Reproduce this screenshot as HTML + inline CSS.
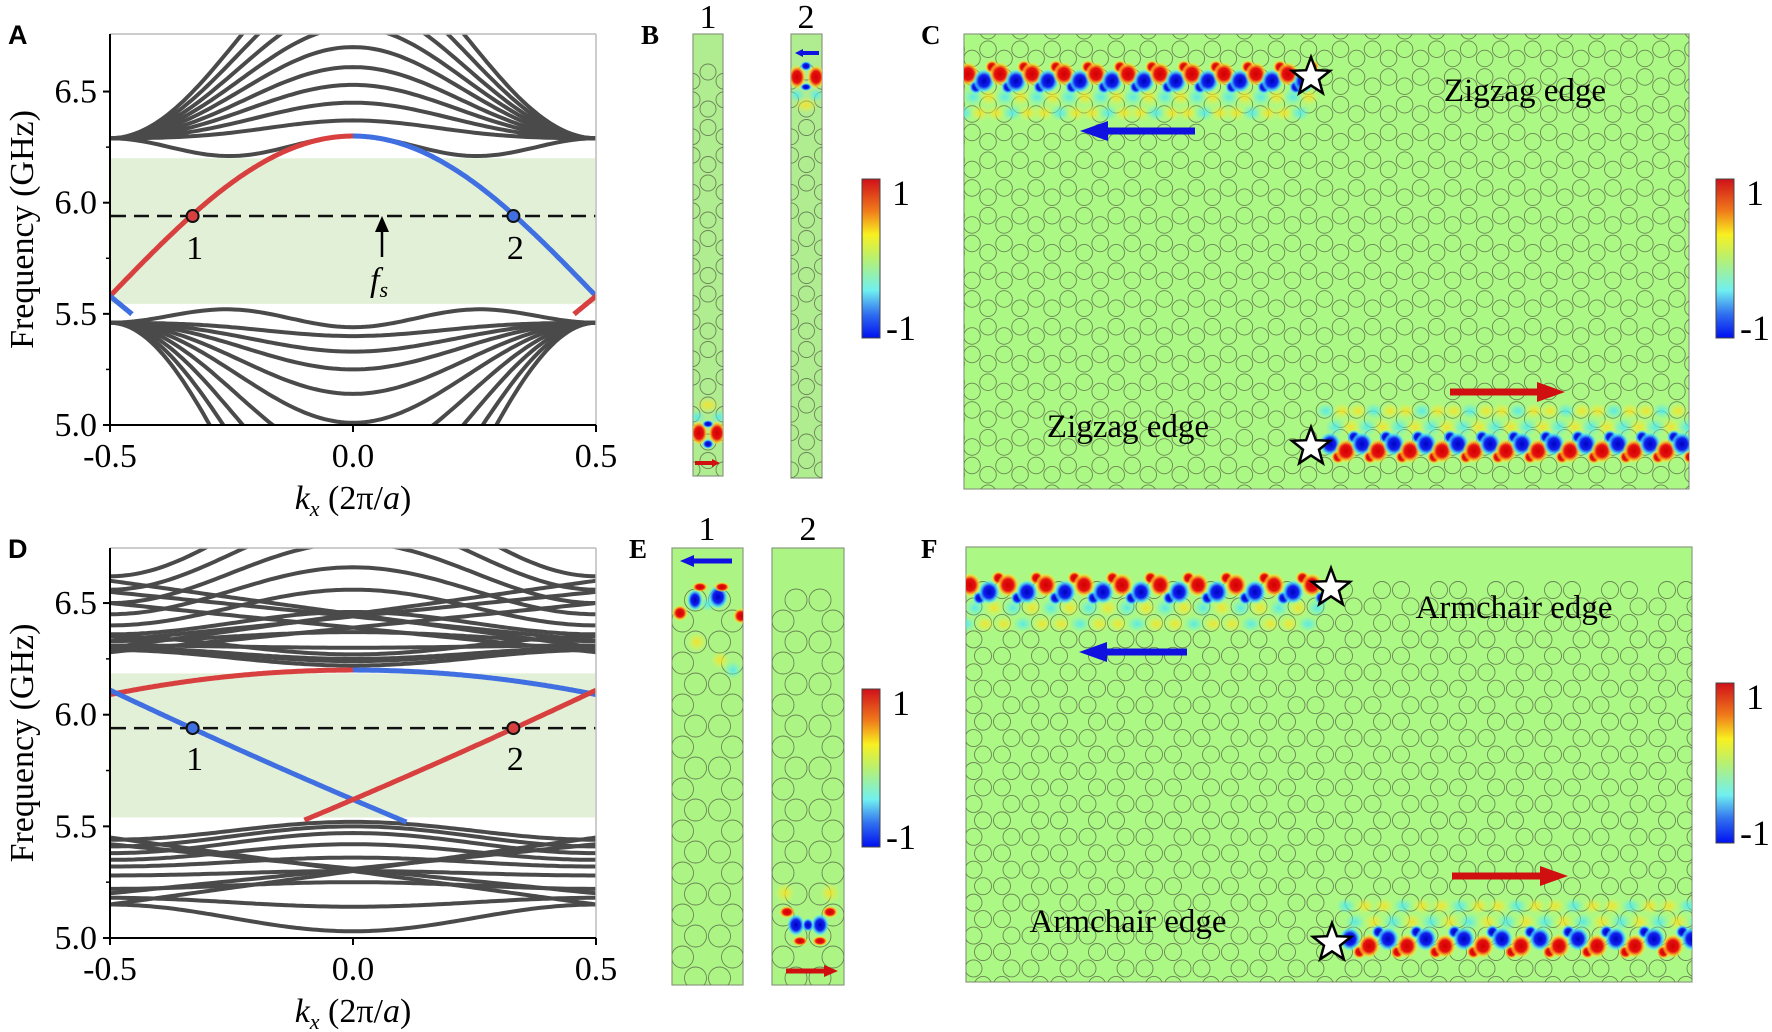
<!DOCTYPE html>
<html><head><meta charset="utf-8">
<style>
html,body{margin:0;padding:0;background:#fff;}
svg{display:block;}
svg text{font-family:"Liberation Serif","DejaVu Serif",serif;}
svg text.lab{font-family:"Liberation Sans",sans-serif;font-weight:bold;font-size:27px;}
</style></head>
<body>
<svg id="s" width="1772" height="1032" xmlns="http://www.w3.org/2000/svg" font-family="Liberation Serif, serif">
<defs>
<linearGradient id="cb" x1="0" y1="0" x2="0" y2="1">
<stop offset="0" stop-color="#d0101a"/><stop offset="0.2" stop-color="#f07a1a"/>
<stop offset="0.35" stop-color="#f8f020"/><stop offset="0.5" stop-color="#b8f070"/>
<stop offset="0.7" stop-color="#70f0f0"/><stop offset="0.85" stop-color="#3070f0"/>
<stop offset="1" stop-color="#0010f0"/></linearGradient>
<radialGradient id="gr"><stop offset="0" stop-color="#d00000"/><stop offset="0.5" stop-color="#e81010"/><stop offset="0.78" stop-color="#ffc020" stop-opacity="0.8"/><stop offset="1" stop-color="#ffff40" stop-opacity="0"/></radialGradient>
<radialGradient id="gb"><stop offset="0" stop-color="#0000c0"/><stop offset="0.5" stop-color="#1020f0"/><stop offset="0.78" stop-color="#40d0ff" stop-opacity="0.8"/><stop offset="1" stop-color="#60ffff" stop-opacity="0"/></radialGradient>
<radialGradient id="gy"><stop offset="0" stop-color="#f8e020" stop-opacity="0.9"/><stop offset="1" stop-color="#f8f040" stop-opacity="0"/></radialGradient>
<radialGradient id="gc"><stop offset="0" stop-color="#50e8f0" stop-opacity="0.9"/><stop offset="1" stop-color="#60f0f0" stop-opacity="0"/></radialGradient>
<clipPath id="cA"><rect x="110" y="34" width="486" height="391"/></clipPath>
<clipPath id="cD"><rect x="110" y="548" width="486" height="390"/></clipPath>
<clipPath id="cB1"><rect x="693" y="34" width="30" height="442"/></clipPath>
<clipPath id="cB2"><rect x="791" y="34" width="31" height="444"/></clipPath>
<clipPath id="cC"><rect x="964" y="34" width="725" height="455"/></clipPath>
<clipPath id="cE1"><rect x="672" y="548" width="71" height="437"/></clipPath>
<clipPath id="cE2"><rect x="772" y="548" width="72" height="437"/></clipPath>
<clipPath id="cF"><rect x="966" y="547" width="726" height="435"/></clipPath>
</defs>
<g id="root"></g>
</svg>
<script>
const NS="http://www.w3.org/2000/svg";
const root=document.getElementById("root");
function el(tag,attrs,parent,txt){const e=document.createElementNS(NS,tag);for(const k in attrs)e.setAttribute(k,attrs[k]);if(tag==="text"&&!e.getAttribute("font-family"))e.setAttribute("font-family","Liberation Serif, serif");if(txt!==undefined)e.textContent=txt;(parent||root).appendChild(e);return e;}
function pathFrom(fn,k0,k1,X,Y){let d="";const n=120;for(let i=0;i<=n;i++){const k=k0+(k1-k0)*i/n;d+=(i?"L":"M")+X(k).toFixed(1)+","+Y(fn(k)).toFixed(1);}return d;}
const X=k=>353+k*486;
const YA=f=>425-(f-5)*222.3;
const YD=f=>938-(f-5)*223.3;
const c=k=>(1+Math.cos(2*Math.PI*k))/2;
const s2=k=>Math.pow(Math.sin(2*Math.PI*k),2);

function axes(top,bot,Y){
  el("line",{x1:110,y1:top,x2:596,y2:top,stroke:"#bbb","stroke-width":1.5});
  el("line",{x1:596,y1:top,x2:596,y2:bot,stroke:"#bbb","stroke-width":1.5});
  el("line",{x1:110,y1:top,x2:110,y2:bot,stroke:"#000","stroke-width":2});
  el("line",{x1:110,y1:bot,x2:596,y2:bot,stroke:"#000","stroke-width":2});
  [5.0,5.5,6.0,6.5].forEach(f=>{const y=Y(f);el("line",{x1:103,y1:y,x2:110,y2:y,stroke:"#000","stroke-width":2});
    el("text",{x:97,y:y+11,"text-anchor":"end","font-size":34},null,f.toFixed(1));});
  [5.25,5.75,6.25].forEach(f=>{const y=Y(f);el("line",{x1:106,y1:y,x2:110,y2:y,stroke:"#000","stroke-width":1.5});});
  [-0.5,0,0.5].forEach(k=>{const x=X(k);el("line",{x1:x,y1:bot,x2:x,y2:bot+7,stroke:"#000","stroke-width":2});
    el("text",{x:x,y:bot+42,"text-anchor":"middle","font-size":34},null,(k<0?"-":"")+Math.abs(k).toFixed(1));});
  const t=el("text",{x:X(0),y:bot+84,"text-anchor":"middle","font-size":34});
  el("tspan",{"font-style":"italic"},t,"k");el("tspan",{"font-style":"italic","font-size":22,dy:7},t,"x");
  el("tspan",{dy:-7},t," (2π/");el("tspan",{"font-style":"italic"},t,"a");el("tspan",{},t,")");
  el("text",{x:0,y:0,"text-anchor":"middle","font-size":34,transform:`translate(33,${(top+bot)/2}) rotate(-90)`},null,"Frequency (GHz)");
}
const gray={fill:"none",stroke:"#4a4a4a","stroke-width":4};
// ---- Panel A ----
el("rect",{x:111,y:YA(6.2),width:484,height:YA(5.545)-YA(6.2),fill:"#e3f0d8"});
const gA=el("g",{"clip-path":"url(#cA)"});
[0.08,0.16,0.24,0.32,0.41,0.5,0.6,0.72,0.85].forEach(a=>el("path",Object.assign({d:pathFrom(k=>6.29+a*c(k)-0.015*s2(k),-0.5,0.5,X,YA)},gray),gA));
el("path",Object.assign({d:pathFrom(k=>6.29-0.085*s2(k)+0.01*c(k),-0.5,0.5,X,YA)},gray),gA);
el("path",Object.assign({d:pathFrom(k=>5.46+0.07*s2(k)-0.02*c(k),-0.5,0.5,X,YA)},gray),gA);
[0.06,0.13,0.21,0.32,0.45,0.62,0.82,1.05,1.3].forEach(b=>el("path",Object.assign({d:pathFrom(k=>5.46-b*c(k)+0.01*s2(k),-0.5,0.5,X,YA)},gray),gA));
const eA=k=>5.58+0.72*Math.cos(Math.PI*k);
el("path",{d:pathFrom(eA,-0.5,0,X,YA),fill:"none",stroke:"#d84040","stroke-width":5},gA);
el("path",{d:pathFrom(eA,0,0.5,X,YA),fill:"none",stroke:"#3f6fe0","stroke-width":5},gA);
el("path",{d:pathFrom(k=>5.58-1.8*(k+0.5),-0.5,-0.455,X,YA),fill:"none",stroke:"#3f6fe0","stroke-width":5},gA);
el("path",{d:pathFrom(k=>5.58-1.8*(0.5-k),0.455,0.5,X,YA),fill:"none",stroke:"#d84040","stroke-width":5},gA);
el("line",{x1:111,y1:YA(5.94),x2:596,y2:YA(5.94),stroke:"#111","stroke-width":2.5,"stroke-dasharray":"15,8"});
el("circle",{cx:X(-0.33),cy:YA(5.94),r:6,fill:"#d84040",stroke:"#111","stroke-width":2});
el("circle",{cx:X(0.33),cy:YA(5.94),r:6,fill:"#3f6fe0",stroke:"#111","stroke-width":2});
el("text",{x:X(-0.33)+2,y:259,"text-anchor":"middle","font-size":34},null,"1");
el("text",{x:X(0.33)+2,y:259,"text-anchor":"middle","font-size":34},null,"2");
el("line",{x1:382,y1:257,x2:382,y2:230,stroke:"#000","stroke-width":2.5});
el("path",{d:"M375,232 L382,216 L389,232 Z",fill:"#000"});
const fs=el("text",{x:370,y:291,"font-size":34,"font-style":"italic"},null);el("tspan",{},fs,"f");el("tspan",{"font-size":22,dy:6},fs,"s");
axes(34,425,YA);
el("text",{x:8,y:44,class:"lab","font-family":"Liberation Sans, sans-serif","font-weight":"bold","font-size":27},null,"A");

// ---- Panel D ----
el("rect",{x:111,y:YD(6.185),width:484,height:YD(5.54)-YD(6.185),fill:"#e3f0d8"});
const gD=el("g",{"clip-path":"url(#cD)"});
[[6.29,6.22],[6.3,6.25],[6.31,6.3],[6.33,6.37],[6.36,6.46],[6.4,6.56],[6.45,6.66],[6.5,6.77],[6.56,6.88],[6.62,7.0],[6.3,6.24],[6.35,6.27]].forEach(p=>el("path",Object.assign({d:pathFrom(k=>p[0]+(p[1]-p[0])*c(k),-0.5,0.5,X,YD)},gray),gD));
[[6.6,6.3],[6.55,6.33],[6.5,6.28]].forEach(p=>{el("path",Object.assign({d:pathFrom(k=>p[0]+(p[1]-p[0])*(k+0.5),-0.5,0.5,X,YD)},gray),gD);el("path",Object.assign({d:pathFrom(k=>p[1]+(p[0]-p[1])*(k+0.5),-0.5,0.5,X,YD)},gray),gD);});
[[5.44,5.52],[5.41,5.5],[5.38,5.47],[5.35,5.42],[5.32,5.36],[5.28,5.3],[5.22,5.25],[5.18,5.14],[5.15,5.03]].forEach(p=>el("path",Object.assign({d:pathFrom(k=>p[0]+(p[1]-p[0])*c(k),-0.5,0.5,X,YD)},gray),gD));
[[5.15,5.45],[5.2,5.42]].forEach(p=>{el("path",Object.assign({d:pathFrom(k=>p[0]+(p[1]-p[0])*(k+0.5),-0.5,0.5,X,YD)},gray),gD);el("path",Object.assign({d:pathFrom(k=>p[1]+(p[0]-p[1])*(k+0.5),-0.5,0.5,X,YD)},gray),gD);});
const up=k=>6.2-0.11*Math.pow(2*Math.abs(k),2);
el("path",{d:pathFrom(up,-0.5,0,X,YD),fill:"none",stroke:"#d84040","stroke-width":5},gD);
el("path",{d:pathFrom(up,0,0.5,X,YD),fill:"none",stroke:"#3f6fe0","stroke-width":5},gD);
const bl=k=>5.62-0.93*k+0.1*k*k;
el("path",{d:pathFrom(bl,-0.5,0.11,X,YD),fill:"none",stroke:"#3f6fe0","stroke-width":5},gD);
el("path",{d:pathFrom(k=>bl(-k),-0.1,0.5,X,YD),fill:"none",stroke:"#d84040","stroke-width":5},gD);
el("line",{x1:111,y1:YD(5.94),x2:596,y2:YD(5.94),stroke:"#111","stroke-width":2.5,"stroke-dasharray":"15,8"});
el("circle",{cx:X(-0.33),cy:YD(5.94),r:6,fill:"#3f6fe0",stroke:"#111","stroke-width":2});
el("circle",{cx:X(0.33),cy:YD(5.94),r:6,fill:"#d84040",stroke:"#111","stroke-width":2});
el("text",{x:X(-0.33)+2,y:770,"text-anchor":"middle","font-size":34},null,"1");
el("text",{x:X(0.33)+2,y:770,"text-anchor":"middle","font-size":34},null,"2");
axes(548,938,YD);
el("text",{x:8,y:558,class:"lab","font-family":"Liberation Sans, sans-serif","font-weight":"bold","font-size":27},null,"D");

// ---- helpers ----
const GREEN="#acf884";
function circ(g,x,y,r){el("circle",{cx:x,cy:y,r:r,fill:"none",stroke:"#5a6a4a","stroke-width":0.9,"stroke-opacity":0.8},g);}
function blob(g,x,y,rx,ry,col){el("ellipse",{cx:x,cy:y,rx:rx,ry:ry,fill:"url(#"+col+")"},g);}
function star(x,y,R){let d="";for(let i=0;i<10;i++){const r=i%2?R*0.42:R;const a=-Math.PI/2+i*Math.PI/5;d+=(i?"L":"M")+(x+r*Math.cos(a)).toFixed(1)+","+(y+r*Math.sin(a)).toFixed(1);}el("path",{d:d+"Z",fill:"#fff",stroke:"#000","stroke-width":2.5});}
function arrow(x1,x2,y,col,th,hw,hl){const dir=Math.sign(x2-x1);el("line",{x1:x1,y1:y,x2:x2-dir*hl,y2:y,stroke:col,"stroke-width":th});el("path",{d:`M${x2},${y} L${x2-dir*hl},${y-hw} L${x2-dir*hl},${y+hw} Z`,fill:col});}
function cbar(x,y1,y2){el("rect",{x:x,y:y1,width:18,height:y2-y1,fill:"url(#cb)",stroke:"#444","stroke-width":1});
  el("text",{x:x+30,y:y1+26,"font-size":36},null,"1");el("text",{x:x+24,y:y2+2,"font-size":36},null,"-1");}
function edgeRow(g,x0,x1,y,step,flip){let i=0;const s=flip?-1:1;for(let x=x0;x<=x1;x+=step/2,i++){
  const r=(i%2==0)^flip;
  blob(g,x+5,y+20*s,10,9,i%2?"gy":"gc");blob(g,x-4,y+36*s,10,8,i%3?"gy":"gc");
  blob(g,x,y+(i%2?4:-3),11,12,r?"gr":"gb");blob(g,x+step/4,y+(i%2?-10:10),7,7,r?"gb":"gr");}}

// ---- Panel B ----
function strip(x,y,w,h,clip,col){el("rect",{x:x,y:y,width:w,height:h,fill:col||"#b0ec90",stroke:"#8a9a80","stroke-width":1.2});return el("g",{"clip-path":"url(#"+clip+")"});}
[[693,30,"cB1",708],[791,31,"cB2",806.5]].forEach(([x,w,cl,cx],idx)=>{
  const g=strip(x,34,w,idx?444:442,cl);
  const a=18.5;for(let j=0;j<9;j++){const y0=72+j*3*a;circ(g,cx,y0,8);circ(g,cx-16,y0+a/2,8);circ(g,cx+16,y0+a/2,8);circ(g,cx-16,y0+1.5*a,8);circ(g,cx+16,y0+1.5*a,8);circ(g,cx,y0+2*a,8);}
  if(idx==0){blob(g,708,405,12,8,"gy");blob(g,697,417,8,7,"gc");blob(g,719,417,8,7,"gc");blob(g,699,433,9,12,"gr");blob(g,717,433,9,12,"gr");blob(g,708,444,6,5,"gb");blob(g,708,424,6,4,"gb");arrow(695,720,463,"#d01010",4,4,8);}
  else{blob(g,806,105,12,8,"gy");blob(g,797,95,8,7,"gc");blob(g,816,95,8,7,"gc");blob(g,797,77,9,12,"gr");blob(g,816,77,9,12,"gr");blob(g,806,66,6,5,"gb");blob(g,806,87,6,4,"gb");arrow(819,795,53,"#1010e0",4,4,8);}
});
el("text",{x:708,y:28,"text-anchor":"middle","font-size":34},null,"1");
el("text",{x:806,y:28,"text-anchor":"middle","font-size":34},null,"2");
cbar(862,179,338);
el("text",{x:641,y:44,"font-family":"Liberation Sans, sans-serif","font-weight":"bold","font-size":27},null,"B");

// ---- Panel C ----
el("rect",{x:964,y:34,width:725,height:455,fill:GREEN,stroke:"#8a9a80","stroke-width":1.2});
const gC=el("g",{"clip-path":"url(#cC)"});
(function(){const a=18.5,w=a*Math.sqrt(3);for(let j=-1;j<9;j++)for(let i=-1;i<25;i++){const x=972+i*w,y=77+j*3*a;
  [[0,0],[w/2,a/2],[w/2,1.5*a],[0,2*a]].forEach(p=>circ(gC,x+p[0],y+p[1],8.3));}})();
edgeRow(gC,968,1305,77,32,false);
edgeRow(gC,1330,1690,447,32,true);
star(1311,77,20);star(1311,447,20);
arrow(1195,1080,131,"#1010e0",7,10,28);
arrow(1450,1565,392,"#d01010",7,10,28);
el("text",{x:1525,y:101,"text-anchor":"middle","font-size":33},null,"Zigzag edge");
el("text",{x:1128,y:437,"text-anchor":"middle","font-size":33},null,"Zigzag edge");
cbar(1716,179,338);
el("text",{x:921,y:44,"font-family":"Liberation Sans, sans-serif","font-weight":"bold","font-size":27},null,"C");

// ---- Panel E ----
[[672,71,"cE1",707.5],[772,72,"cE2",808]].forEach(([x,w,cl,cx],idx)=>{
  const g=strip(x,548,w,437,cl,"#acf584");
  for(let j=0;j<10;j++){const y=600+j*42;circ(g,cx-12,y,11);circ(g,cx+12,y,11);if(j<9){circ(g,cx-25,y+21,11);circ(g,cx+25,y+21,11);}}
  if(idx==0){blob(g,697,642,10,10,"gy");blob(g,720,660,9,9,"gy");blob(g,733,670,9,9,"gc");blob(g,708,604,8,8,"gc");blob(g,695,600,8,11,"gb");blob(g,718,597,10,12,"gb");blob(g,700,587,8,5,"gr");blob(g,722,587,8,5,"gr");blob(g,680,613,8,8,"gr");blob(g,741,616,8,8,"gr");arrow(732,680,561,"#1010e0",5,6,14);}
  else{blob(g,785,893,10,10,"gy");blob(g,830,893,10,10,"gy");blob(g,796,925,9,11,"gb");blob(g,820,925,9,11,"gb");blob(g,808,925,6,7,"gb");blob(g,787,912,8,6,"gr");blob(g,830,912,8,6,"gr");blob(g,800,941,8,5,"gr");blob(g,820,941,8,5,"gr");arrow(786,838,971,"#d01010",5,6,14);}
});
el("text",{x:707,y:540,"text-anchor":"middle","font-size":34},null,"1");
el("text",{x:808,y:540,"text-anchor":"middle","font-size":34},null,"2");
cbar(862,689,847);
el("text",{x:629,y:558,"font-family":"Liberation Sans, sans-serif","font-weight":"bold","font-size":27},null,"E");

// ---- Panel F ----
el("rect",{x:966,y:547,width:726,height:435,fill:GREEN,stroke:"#8a9a80","stroke-width":1.2});
const gF=el("g",{"clip-path":"url(#cF)"});
(function(){const a=19,h=a*Math.sqrt(3)/2;for(let j=0;j<28;j++)for(let i=-1;i<14;i++){const y=590+j*h;const x=983+i*3*a+(j%2?1.5*a:0);
  circ(gF,x,y,8.5);circ(gF,x+a,y,8.5);}})();
edgeRow(gF,970,1320,588,38,false);
edgeRow(gF,1350,1692,942,38,true);
star(1331,588,20);star(1332,943,20);
arrow(1187,1079,652,"#1010e0",7,10,28);
arrow(1452,1568,876,"#d01010",7,10,28);
el("text",{x:1514,y:618,"text-anchor":"middle","font-size":33},null,"Armchair edge");
el("text",{x:1128,y:932,"text-anchor":"middle","font-size":33},null,"Armchair edge");
cbar(1716,683,843);
el("text",{x:921,y:558,"font-family":"Liberation Sans, sans-serif","font-weight":"bold","font-size":27},null,"F");
</script>
</body></html>
